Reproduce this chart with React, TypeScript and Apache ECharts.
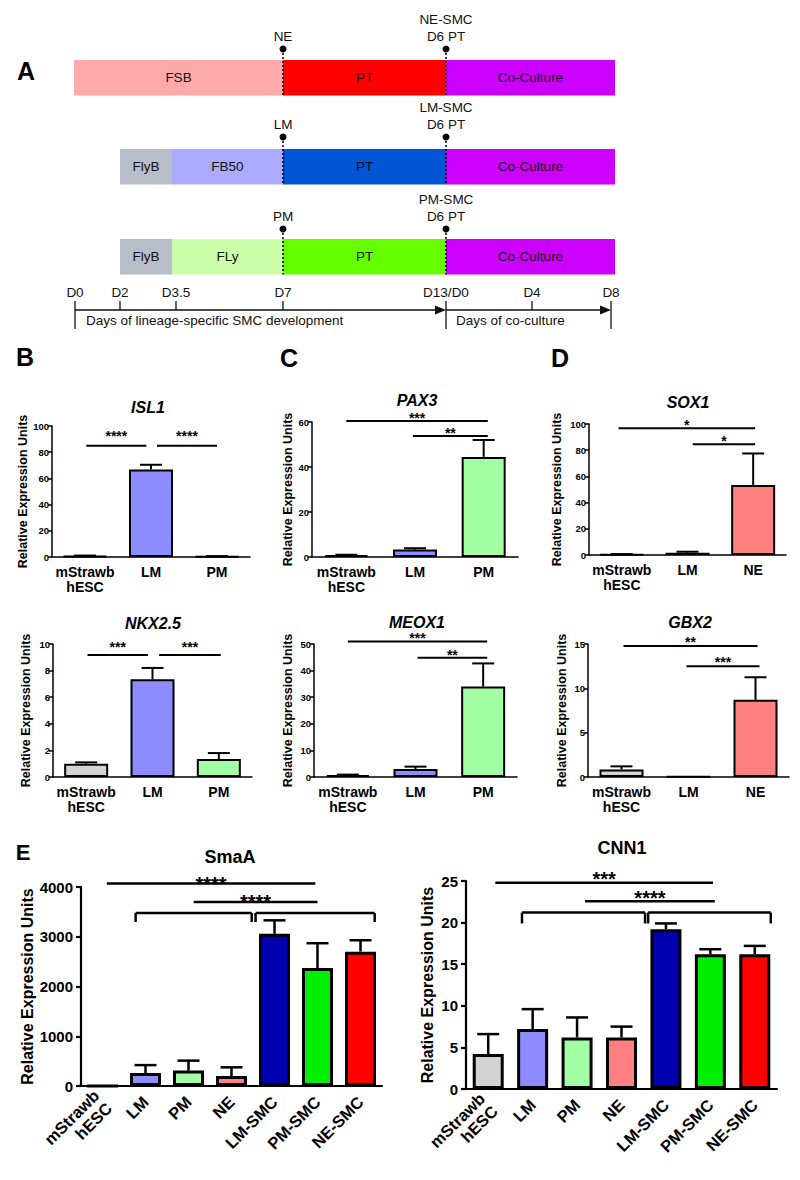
import React, { useEffect, useRef } from "react";
import * as echarts from "echarts";

const FONT = "'Liberation Sans', Arial, Helvetica, sans-serif";

// ---------------- data ----------------
const CATS_PM = ["mStrawb\nhESC", "LM", "PM"];
const CATS_NE = ["mStrawb\nhESC", "LM", "NE"];
const CATS_E = ["mStrawb\nhESC", "LM", "PM", "NE", "LM-SMC", "PM-SMC", "NE-SMC"];

const ISL1_MEAN = [0.8, 66.8, 0.5];
const ISL1_ERR = [0.3, 3.6, 0.2];
const NKX25_MEAN = [1.0, 7.35, 1.35];
const NKX25_ERR = [0.1, 0.85, 0.45];
const PAX3_MEAN = [0.8, 3.3, 44.5];
const PAX3_ERR = [0.2, 0.6, 7.5];
const MEOX1_MEAN = [0.7, 3.0, 34.0];
const MEOX1_ERR = [0.2, 0.9, 8.7];
const SOX1_MEAN = [0.5, 1.8, 53.5];
const SOX1_ERR = [0.2, 0.7, 24.0];
const GBX2_MEAN = [0.85, 0.05, 8.7];
const GBX2_ERR = [0.35, 0, 2.55];
const SMAA_MEAN = [0, 260, 310, 200, 3060, 2370, 2700];
const SMAA_ERR = [0, 160, 200, 175, 270, 500, 230];
const CNN1_MEAN = [4.2, 7.2, 6.2, 6.2, 19.2, 16.2, 16.2];
const CNN1_ERR = [2.4, 2.4, 2.4, 1.3, 0.7, 0.6, 1.0];

// significance annotations: [from (category pos), to (category pos), value, label, bracket drop value]
const SIG_ISL1 = [[0.02, 0.93, 85, "****"], [1.09, 2.0, 85, "****"]];
const SIG_NKX25 = [[0.02, 0.93, 9.17, "***"], [1.1, 2.03, 9.17, "***"]];
const SIG_PAX3 = [[0.0, 2.06, 60.4, "***"], [0.97, 2.06, 53.8, "**"]];
const SIG_MEOX1 = [[0.0, 2.06, 50.9, "***"], [1.03, 2.06, 44.8, "**"]];
const SIG_SOX1 = [[-0.05, 2.03, 96.7, "*"], [1.08, 2.03, 84.5, "*"]];
const SIG_GBX2 = [[0.03, 2.03, 14.77, "**"], [0.97, 2.06, 12.5, "***"]];
const SIG_SMAA = [
  [0.1, 4.95, 4068, "****"],
  [2.12, 5.0, 3699, "****"],
  [0.77, 3.47, 3478, "", 3297],
  [3.56, 6.33, 3478, "", 3297],
];
const SIG_CNN1 = [
  [0.16, 5.06, 24.8, "***"],
  [2.18, 5.1, 22.57, "****"],
  [0.76, 3.53, 21.2, "", 19.9],
  [3.6, 6.36, 21.2, "", 19.9],
];

// panel A schematic
const STAGE_ROWS = [
  { names: ["FSB", "PT", "Co-Culture"], marker: "NE", smc: "NE-SMC" },
  { names: ["FlyB", "FB50", "PT", "Co-Culture"], marker: "LM", smc: "LM-SMC" },
  { names: ["FlyB", "FLy", "PT", "Co-Culture"], marker: "PM", smc: "PM-SMC" },
];
const TIMELINE_LABELS = ["D0", "D2", "D3.5", "D7", "D13/D0", "D4", "D8"];
const TIMELINE_TEXT = ["Days of lineage-specific SMC development", "Days of co-culture"];

// ---------------- styles / layout ----------------
const CAT_COLORS: Record<string, string> = {
  "mStrawb\nhESC": "#d3d3d3",
  LM: "#8c8cff",
  PM: "#a3ffa3",
  NE: "#ff8080",
  "LM-SMC": "#0000b0",
  "PM-SMC": "#00ee00",
  "NE-SMC": "#ff0000",
};
const STAGE_COLORS = [
  ["#ffaaaa", "#ff0000", "#cc00ff"],
  ["#b8bec9", "#aaaaff", "#0055d4", "#cc00ff"],
  ["#b8bec9", "#ccffaa", "#66ff00", "#cc00ff"],
];
const ROW_Y = [60, 149, 239];
const ROW_H = 35.5;
const ROW_EDGES = [
  [74, 283, 446, 615],
  [120, 172, 283, 446, 615],
  [120, 172, 283, 446, 615],
];
const MARK_Y = [49, 137, 229];
const TICK_X = [75, 120, 176, 283, 446, 532, 611];
const LONG_TICKS = [0, 4, 6];

const PANELS = [
  { title: "ISL1", cats: CATS_PM, mean: ISL1_MEAN, err: ISL1_ERR, sig: SIG_ISL1, max: 100, interval: 20, grid: [52, 426, 198, 131], t: [148, 407], nameGap: 22, starGap: 13, big: false },
  { title: "NKX2.5", cats: CATS_PM, mean: NKX25_MEAN, err: NKX25_ERR, sig: SIG_NKX25, max: 10, interval: 2, grid: [53, 644, 199, 133], t: [153, 623], nameGap: 21, starGap: 12, big: false },
  { title: "PAX3", cats: CATS_PM, mean: PAX3_MEAN, err: PAX3_ERR, sig: SIG_PAX3, max: 60, interval: 20, grid: [312, 422, 206, 135], t: [417, 400], nameGap: 18, starGap: 6.5, big: false },
  { title: "MEOX1", cats: CATS_PM, mean: MEOX1_MEAN, err: MEOX1_ERR, sig: SIG_MEOX1, max: 50, interval: 10, grid: [314, 644, 203, 133], t: [417, 622], nameGap: 20, starGap: 7, big: false },
  { title: "SOX1", cats: CATS_NE, mean: SOX1_MEAN, err: SOX1_ERR, sig: SIG_SOX1, max: 100, interval: 20, grid: [589, 424, 197, 131], t: [688, 402], nameGap: 26, starGap: 7, big: false },
  { title: "GBX2", cats: CATS_NE, mean: GBX2_MEAN, err: GBX2_ERR, sig: SIG_GBX2, max: 15, interval: 5, grid: [588, 644, 201, 133], t: [690, 622], nameGap: 20, starGap: 7.7, big: false },
  { title: "SmaA", cats: CATS_E, mean: SMAA_MEAN, err: SMAA_ERR, sig: SIG_SMAA, max: 4000, interval: 1000, grid: [81, 887, 301, 199], t: [230, 857], nameGap: 46, starGap: 5, big: true },
  { title: "CNN1", cats: CATS_E, mean: CNN1_MEAN, err: CNN1_ERR, sig: SIG_CNN1, max: 25, interval: 5, grid: [466, 881, 311, 208], t: [622, 848], nameGap: 31, starGap: 9, big: true },
];

const PANEL_LETTERS = [
  { text: "A", x: 26, y: 71, size: 25 },
  { text: "B", x: 25, y: 357, size: 25 },
  { text: "C", x: 289, y: 358, size: 25 },
  { text: "D", x: 560, y: 358, size: 25 },
  { text: "E", x: 23, y: 852, size: 22 },
];

const A_FONT = "13.5px 'Liberation Sans', Arial, sans-serif";

function txt(text: string, x: number, y: number, font: string, align = "center", fill = "#111") {
  return {
    type: "text",
    x,
    y,
    silent: true,
    style: { text, font, fill, align, verticalAlign: "middle" },
  };
}

function panelAGraphics() {
  const g: any[] = [];
  STAGE_ROWS.forEach((row, r) => {
    const edges = ROW_EDGES[r];
    const y = ROW_Y[r];
    row.names.forEach((name, i) => {
      g.push({
        type: "rect",
        shape: { x: edges[i], y, width: edges[i + 1] - edges[i], height: ROW_H },
        style: { fill: STAGE_COLORS[r][i] },
        silent: true,
      });
      g.push(txt(name, (edges[i] + edges[i + 1]) / 2, y + ROW_H / 2, A_FONT));
    });
    [283, 446].forEach((mx) => {
      g.push({
        type: "line",
        shape: { x1: mx, y1: MARK_Y[r], x2: mx, y2: y + ROW_H },
        style: { stroke: "#000", lineWidth: 1.5, lineDash: [2, 2] },
        silent: true,
      });
      g.push({ type: "circle", shape: { cx: mx, cy: MARK_Y[r], r: 3.5 }, style: { fill: "#000" }, silent: true });
    });
    g.push(txt(row.marker, 283, MARK_Y[r] - 13, A_FONT));
    g.push(txt("D6 PT", 446, MARK_Y[r] - 13, A_FONT));
    g.push(txt(row.smc, 446, MARK_Y[r] - 30, A_FONT));
  });
  TIMELINE_LABELS.forEach((lab, i) => {
    g.push(txt(lab, TICK_X[i], 292, A_FONT));
    const long = LONG_TICKS.indexOf(i) >= 0;
    g.push({
      type: "line",
      shape: { x1: TICK_X[i], y1: 301, x2: TICK_X[i], y2: long ? 329 : 310 },
      style: { stroke: "#111", lineWidth: 1.3 },
      silent: true,
    });
  });
  [[75, 446], [446, 611]].forEach(([a, b]) => {
    g.push({ type: "line", shape: { x1: a, y1: 310, x2: b - 4, y2: 310 }, style: { stroke: "#111", lineWidth: 1.3 }, silent: true });
    g.push({ type: "polygon", shape: { points: [[b - 11, 305.5], [b, 310], [b - 11, 314.5]] }, style: { fill: "#111" }, silent: true });
  });
  g.push(txt(TIMELINE_TEXT[0], 86, 320, A_FONT, "left"));
  g.push(txt(TIMELINE_TEXT[1], 456, 320, A_FONT, "left"));
  return g;
}

function buildOption() {
  const grid: any[] = [];
  const xAxis: any[] = [];
  const yAxis: any[] = [];
  const series: any[] = [];
  const graphic: any[] = panelAGraphics();

  PANELS.forEach((p, gi) => {
    const big = p.big;
    const axisW = big ? 2.2 : 1.5;
    grid.push({ left: p.grid[0], top: p.grid[1], width: p.grid[2], height: p.grid[3] });
    xAxis.push({
      type: "category",
      gridIndex: gi,
      data: p.cats,
      axisLine: { lineStyle: { color: "#000", width: axisW } },
      axisTick: { alignWithLabel: true, length: big ? 6 : 4, lineStyle: { color: "#000", width: axisW } },
      axisLabel: {
        color: "#000",
        fontWeight: "bold",
        fontFamily: FONT,
        fontSize: big ? 16.5 : 14,
        lineHeight: big ? 18 : 15,
        margin: big ? 13 : 7,
        rotate: big ? 45 : 0,
        interval: 0,
      },
    });
    yAxis.push({
      type: "value",
      gridIndex: gi,
      min: 0,
      max: p.max,
      interval: p.interval,
      splitLine: { show: false },
      axisLine: { show: true, lineStyle: { color: "#000", width: axisW } },
      axisTick: { show: true, length: big ? 5 : 4, lineStyle: { color: "#000", width: axisW } },
      axisLabel: {
        color: "#000",
        fontWeight: "bold",
        fontFamily: FONT,
        fontSize: big ? 15 : 9.5,
        margin: big ? 8 : 3,
        formatter: (v: number) => String(v),
      },
      name: "Relative Expression Units",
      nameLocation: "middle",
      nameRotate: 90,
      nameGap: p.nameGap,
      nameTextStyle: { color: "#000", fontWeight: "bold", fontFamily: FONT, fontSize: big ? 16 : 12.5 },
    });
    series.push({
      type: "bar",
      xAxisIndex: gi,
      yAxisIndex: gi,
      barWidth: big ? 31 : 44,
      data: p.mean.map((v, i) => ({ value: v, itemStyle: { color: CAT_COLORS[p.cats[i]] } })),
      itemStyle: { borderColor: "#000", borderWidth: big ? 3 : 2 },
      silent: true,
      z: 2,
    });
    const lw = big ? 2.5 : 2;
    series.push({
      type: "custom",
      xAxisIndex: gi,
      yAxisIndex: gi,
      silent: true,
      z: 3,
      encode: { x: 0, y: 1 },
      data: p.mean.map((m, i) => [i, m, p.err[i]]),
      renderItem: (params: any, api: any) => {
        const i = api.value(0);
        const m = api.value(1);
        const e = api.value(2);
        if (!(e > 0)) return { type: "group", children: [] };
        const p0 = api.coord([i, m]);
        const p1 = api.coord([i, m + e]);
        const hw = 11;
        return {
          type: "group",
          children: [
            { type: "line", shape: { x1: p0[0], y1: p0[1], x2: p1[0], y2: p1[1] }, style: { stroke: "#000", lineWidth: lw } },
            { type: "line", shape: { x1: p1[0] - hw, y1: p1[1], x2: p1[0] + hw, y2: p1[1] }, style: { stroke: "#000", lineWidth: lw } },
          ],
        };
      },
    });
    const sig = p.sig as any[];
    const starSize = big ? 20 : 14;
    series.push({
      type: "custom",
      xAxisIndex: gi,
      yAxisIndex: gi,
      silent: true,
      clip: false,
      z: 4,
      encode: { x: 0, y: 1 },
      data: sig.map((s) => [0, s[2]]),
      renderItem: (params: any, api: any) => {
        const s = sig[params.dataIndex];
        const a = api.coord([0, s[2]]);
        const b = api.coord([1, s[2]]);
        const step = b[0] - a[0];
        const x1 = a[0] + s[0] * step;
        const x2 = a[0] + s[1] * step;
        const y = a[1];
        const children: any[] = [
          { type: "line", shape: { x1, y1: y, x2, y2: y }, style: { stroke: "#000", lineWidth: lw } },
        ];
        if (s[4] !== undefined) {
          const yd = api.coord([0, s[4]])[1];
          children.push({ type: "line", shape: { x1, y1: y, x2: x1, y2: yd }, style: { stroke: "#000", lineWidth: lw } });
          children.push({ type: "line", shape: { x1: x2, y1: y, x2, y2: yd }, style: { stroke: "#000", lineWidth: lw } });
        }
        if (s[3]) {
          children.push({
            type: "text",
            x: (x1 + x2) / 2,
            y: y - p.starGap + 0.77 * starSize,
            style: {
              text: s[3],
              font: `bold ${starSize}px ${FONT}`,
              fill: "#000",
              align: "center",
              verticalAlign: "bottom",
            },
          });
        }
        return { type: "group", children };
      },
    });
    graphic.push(
      txt(p.title, p.t[0], p.t[1], big ? `bold 18px ${FONT}` : `italic bold 16px ${FONT}`, "center", "#000")
    );
  });

  PANEL_LETTERS.forEach((l) => graphic.push(txt(l.text, l.x, l.y, `bold ${l.size}px ${FONT}`, "center", "#000")));

  return {
    animation: false,
    backgroundColor: "#ffffff",
    textStyle: { fontFamily: FONT },
    grid,
    xAxis,
    yAxis,
    series,
    graphic,
  };
}

export default function App() {
  const ref = useRef<HTMLDivElement>(null);
  useEffect(() => {
    if (!ref.current) return;
    const chart = echarts.init(ref.current, null, { renderer: "svg", width: 800, height: 1180 });
    chart.setOption(buildOption() as any);
    return () => chart.dispose();
  }, []);
  return (
    <div
      ref={ref}
      style={{ position: "absolute", left: 0, top: 0, width: 800, height: 1180, background: "#fff" }}
    />
  );
}
